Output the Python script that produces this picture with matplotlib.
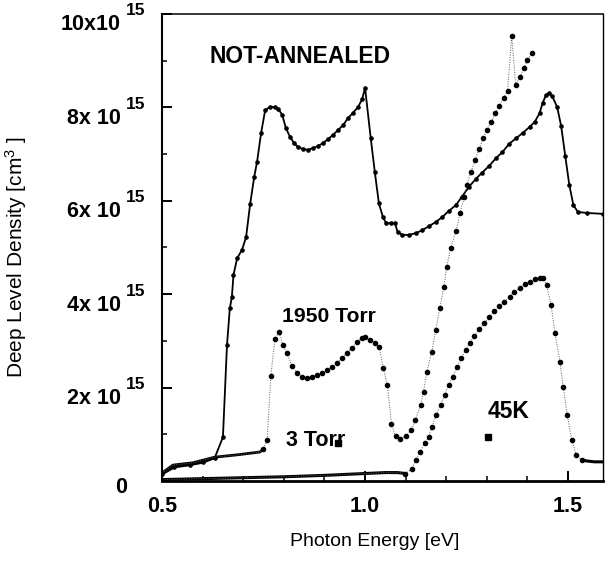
import matplotlib
matplotlib.use('Agg')
import matplotlib.pyplot as plt
from matplotlib.ticker import MultipleLocator
from matplotlib.transforms import offset_copy

plt.rcParams['font.family'] = 'Liberation Sans'
plt.rcParams['mathtext.default'] = 'regular'

# photon energy [eV] and deep level density [1e15 cm^-3]
na_e = [0.50, 0.53, 0.57, 0.60, 0.63, 0.650, 0.660, 0.667, 0.672, 0.676,
        0.685, 0.697, 0.707, 0.717, 0.727, 0.734, 0.744, 0.754, 0.766, 0.778,
        0.786, 0.796, 0.805, 0.815, 0.825, 0.835, 0.847, 0.860, 0.872, 0.884,
        0.897, 0.909, 0.921, 0.934, 0.946, 0.958, 0.970, 0.983, 0.993, 1.000,
        1.014, 1.024, 1.034, 1.044, 1.052, 1.064, 1.074, 1.080, 1.092, 1.109,
        1.126, 1.141, 1.158, 1.175, 1.190, 1.206, 1.224, 1.238, 1.256, 1.273,
        1.288, 1.306, 1.323, 1.338, 1.355, 1.372, 1.388, 1.405, 1.418, 1.430,
        1.437, 1.446, 1.454, 1.461, 1.473, 1.483, 1.493, 1.503, 1.513, 1.524,
        1.546, 1.586]
na_v = [0.15, 0.30, 0.35, 0.40, 0.50, 0.94, 2.91, 3.70, 3.94, 4.41,
        4.77, 4.95, 5.22, 5.93, 6.51, 6.83, 7.45, 7.94, 8.01, 8.01,
        7.97, 7.84, 7.56, 7.37, 7.24, 7.15, 7.11, 7.09, 7.13, 7.17,
        7.24, 7.32, 7.41, 7.52, 7.62, 7.77, 7.88, 8.01, 8.18, 8.42,
        7.34, 6.62, 5.95, 5.65, 5.52, 5.52, 5.52, 5.33, 5.27, 5.27,
        5.31, 5.37, 5.46, 5.55, 5.65, 5.78, 5.91, 6.08, 6.30, 6.47,
        6.60, 6.75, 6.92, 7.04, 7.22, 7.34, 7.45, 7.58, 7.69, 7.88,
        8.09, 8.27, 8.31, 8.24, 8.01, 7.60, 6.96, 6.34, 5.91, 5.76,
        5.74, 5.72]

t1950_e = [0.500, 0.527, 0.576, 0.630, 0.685, 0.741, 0.749, 0.759, 0.768, 0.778,
           0.788, 0.798, 0.808, 0.820, 0.833, 0.845, 0.857, 0.869, 0.882, 0.894,
           0.906, 0.919, 0.931, 0.943, 0.956, 0.968, 0.980, 0.993, 1.000, 1.012,
           1.025, 1.035, 1.045, 1.055, 1.065, 1.075, 1.087, 1.100, 1.114, 1.124,
           1.137, 1.144, 1.152, 1.164, 1.174, 1.184, 1.194, 1.201, 1.211, 1.224,
           1.234, 1.244, 1.251, 1.261, 1.271, 1.281, 1.291, 1.301, 1.311, 1.321,
           1.331, 1.341, 1.351, 1.361, 1.371, 1.381, 1.391, 1.400, 1.410]
t1950_v = [0.17, 0.34, 0.39, 0.51, 0.56, 0.62, 0.68, 0.88, 2.25, 3.04,
           3.19, 2.91, 2.74, 2.46, 2.31, 2.23, 2.21, 2.23, 2.27, 2.31,
           2.38, 2.44, 2.53, 2.63, 2.74, 2.85, 2.98, 3.06, 3.08, 3.02,
           2.96, 2.87, 2.42, 2.06, 1.22, 0.96, 0.90, 0.96, 1.09, 1.31,
           1.63, 1.91, 2.33, 2.76, 3.23, 3.70, 4.15, 4.58, 4.99, 5.35,
           5.74, 6.08, 6.34, 6.62, 6.87, 7.11, 7.34, 7.52, 7.69, 7.88,
           8.03, 8.20, 8.35, 9.53, 8.48, 8.65, 8.84, 9.01, 9.16]

t3_e = [0.50, 0.60, 0.70, 0.80, 0.90, 1.00, 1.05, 1.08,
        1.099, 1.115, 1.125, 1.136, 1.147, 1.157, 1.165, 1.175, 1.186, 1.196,
        1.206, 1.216, 1.227, 1.237, 1.248, 1.258, 1.269, 1.281, 1.294, 1.306,
        1.318, 1.331, 1.343, 1.356, 1.368, 1.381, 1.393, 1.405, 1.418, 1.430,
        1.439, 1.447, 1.458, 1.468, 1.480, 1.488, 1.498, 1.509, 1.520, 1.534,
        1.545, 1.555, 1.565, 1.575, 1.586]
t3_v = [0.03, 0.05, 0.07, 0.09, 0.12, 0.16, 0.18, 0.18,
        0.16, 0.25, 0.45, 0.63, 0.81, 0.95, 1.16, 1.41, 1.63, 1.84,
        2.06, 2.23, 2.45, 2.63, 2.81, 2.96, 3.10, 3.25, 3.38, 3.51,
        3.63, 3.75, 3.84, 3.95, 4.05, 4.14, 4.21, 4.27, 4.32, 4.35,
        4.34, 4.20, 3.77, 3.16, 2.55, 2.02, 1.41, 0.88, 0.56, 0.45,
        0.43, 0.42, 0.41, 0.41, 0.41]

# symbol positions next to the sample labels
key_e = [0.933, 1.304]
key_v = [0.81, 0.94]

ytick_vals = [2, 4, 6, 8, 10]
ytick_base = ['2x 10', '4x 10', '6x 10', '8x 10', '10x10']
xtick_vals = [0.5, 1.0, 1.5]
xtick_text = ['0.5', '1.0', '1.5']

fig = plt.figure(figsize=(6.05, 5.64), dpi=100)
ax = fig.add_axes([0.2678, 0.1472, 0.7289, 0.828])

# not-annealed: solid line with small dots
ax.plot(na_e[:5], na_v[:5], '-', color='k', lw=2.0)
ax.plot(na_e, na_v, '-', color='k', lw=1.3, marker='o', ms=2.3)

# annealed samples: dotted lines with larger dots
dot = (0, (1, 1.5))
ax.plot(t1950_e[:7], t1950_v[:7], '-', color='k', lw=2.0)
ax.plot(t1950_e, t1950_v, linestyle=dot, color='0.35', lw=0.7)
ax.plot(t1950_e[6:], t1950_v[6:], 'o', color='k', ms=3.0)

ax.plot(t3_e[:9], t3_v[:9], '-', color='k', lw=2.2)
ax.plot(t3_e, t3_v, linestyle=dot, color='0.35', lw=0.7)
ax.plot(t3_e[8:48], t3_v[8:48], 'o', color='k', ms=3.0)
ax.plot(t3_e[47:], t3_v[47:], '-', color='k', lw=2.2)

ax.plot(key_e, key_v, 's', color='k', ms=5)

ax.set_xlim(0.5, 1.586)
ax.set_ylim(0, 10)

ax.set_yticks([0] + ytick_vals)
ax.set_yticklabels([])
ax.yaxis.set_minor_locator(MultipleLocator(1))
ax.set_xticks(xtick_vals)
ax.set_xticklabels(xtick_text, fontweight='bold')
ax.xaxis.set_minor_locator(MultipleLocator(0.1))

ax.tick_params(which='major', direction='in', length=7, width=1.4,
               labelsize=15.5, top=False, right=False)
ax.tick_params(which='minor', direction='in', length=3.5, width=1.1,
               top=False, right=False)
ax.tick_params(axis='x', pad=11)

# y tick labels with a raised exponent
ytrans = ax.get_yaxis_transform()
for val, base in zip(ytick_vals, ytick_base):
    ax.text(0, val, base, ha='right', va='center', fontsize=15.5, fontweight='bold',
            transform=offset_copy(ytrans, fig=fig, x=-41, y=-11, units='dots'))
    ax.text(0, val, '15', ha='left', va='center', fontsize=12.5, fontweight='bold',
            transform=offset_copy(ytrans, fig=fig, x=-36, y=3, units='dots'))
ax.text(0, 0, '0', ha='right', va='center', fontsize=15.5, fontweight='bold',
        transform=offset_copy(ytrans, fig=fig, x=-35, y=-7, units='dots'))

ax.spines['left'].set_linewidth(1.5)
ax.spines['bottom'].set_linewidth(2.0)
ax.spines['top'].set_linewidth(1.1)
ax.spines['right'].set_linewidth(1.0)

ax.set_xlabel('Photon Energy [eV]', fontsize=14)
ax.xaxis.set_label_coords(0.483, -0.111)
ax.set_ylabel('Deep Level Density [cm$^{3}$ ]', fontsize=15)
ax.yaxis.set_label_coords(-0.302, 0.478)

ax.text(0.618, 9.08, 'NOT-ANNEALED', fontsize=16.5, fontweight='bold', va='center')
ax.text(0.796, 3.53, '1950 Torr', fontsize=15.2, fontweight='bold', va='center')
ax.text(0.805, 0.86, '3 Torr', fontsize=15.5, fontweight='bold', va='center')
ax.text(1.303, 1.48, '45K', fontsize=16.5, fontweight='bold', va='center')

fig.savefig('out.png', dpi=100)
